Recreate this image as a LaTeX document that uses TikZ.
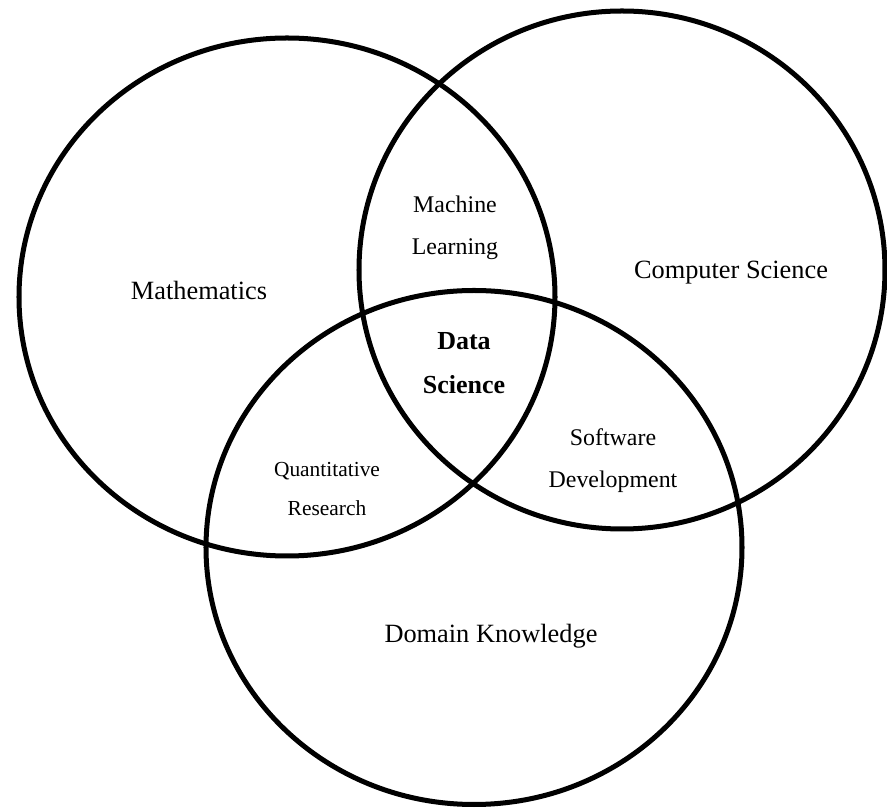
\documentclass[tikz,border=0pt]{standalone}
\usepackage{fontspec}
\setmainfont{Liberation Serif}
\usepackage{tikz}
\usetikzlibrary{calc}

\begin{document}
\begin{tikzpicture}[x=0.02cm, y=-0.02cm,
        set/.style={line width=2.85pt},
        bigtext/.style={font=\fontsize{15}{18}\selectfont},
        pairtext/.style={align=center, font=\fontsize{13.6}{23.9}\selectfont}]
                    \useasboundingbox (0,0) rectangle (887,810);
                    \coordinate (M) at (287,297);
                    \coordinate (C) at (622,270);
                    \coordinate (D) at (474,547.5);
                    \draw[set] (M) ellipse [x radius=268, y radius=259];
                    \draw[set] (C) ellipse [x radius=263, y radius=259];
                    \draw[set] (D) ellipse [x radius=268, y radius=257];
                    \node[bigtext] (math) at (199,290) {Mathematics};
                    \node[bigtext] (cs) at (731,273) {Computer Science};
                    \node[bigtext] (dom) at (491,636) {Domain Knowledge};
                    \node[pairtext] (ml) at (455,228) {Machine\\Learning};
                    \node[pairtext] (sd) at (613,461) {Software\\Development};
                    \node[pairtext, font=\fontsize{12.2}{22.2}\selectfont] (qr) at (327,489.5) {Quantitative\\Research};
                    \node[pairtext, font=\fontsize{14.8}{25}\selectfont\bfseries] (ds) at (464,363) {Data\\Science};
                \end{tikzpicture}
\end{document}
